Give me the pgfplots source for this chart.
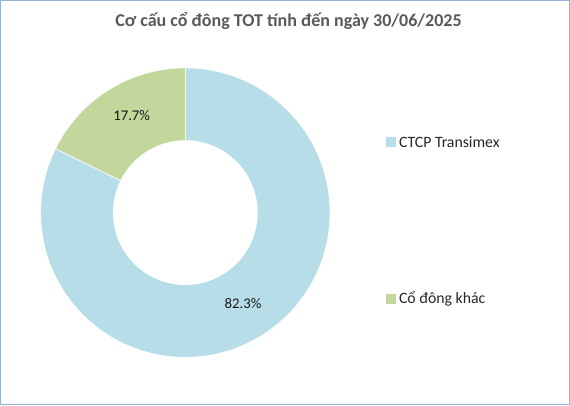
\documentclass[border=0pt]{standalone}
\usepackage{pgfplots}
\pgfplotsset{compat=1.18}
\usepackage{pgfplotstable}
\usepackage{fontspec}
\setmainfont{Carlito}
\definecolor{cblue}{HTML}{B7DDE8}
\definecolor{cgreen}{HTML}{C3D69B}
\definecolor{ctitle}{HTML}{595959}
\definecolor{cborder}{HTML}{95B3D7}
\pgfplotstableread{
label value
CTCP 82.3
Khac 17.7
}\sharetable
\begin{document}
\begin{tikzpicture}
\pgfplotstablegetelem{0}{value}\of\sharetable \let\va\pgfplotsretval
\pgfplotstablegetelem{1}{value}\of\sharetable \let\vb\pgfplotsretval
\pgfmathsetmacro{\aend}{90-3.6*\va}
\pgfmathsetmacro{\bend}{\aend-3.6*\vb}
\begin{axis}[hide axis, scale only axis, x=1pt, y=1pt,
  xmin=0, xmax=570, ymin=0, ymax=407, clip=false]
\addplot[fill=cblue, draw=white, line width=0.6pt, domain=90:\aend, samples=150, variable=\t]
  ({187+143*cos(\t)}, {194+143*sin(\t)}) -- (axis cs:187,194) -- cycle;
\addplot[fill=cgreen, draw=white, line width=0.6pt, domain=\aend:\bend, samples=60, variable=\t]
  ({187+143*cos(\t)}, {194+143*sin(\t)}) -- (axis cs:187,194) -- cycle;
\addplot[fill=white, draw=none, domain=0:360, samples=150, variable=\t]
  ({187+71.5*cos(\t)}, {194+71.5*sin(\t)}) -- cycle;
\node[font=\fontsize{14.6}{16}\selectfont, text=black!90] at (axis cs:244,104) {82.3\%};
\node[font=\fontsize{14.6}{16}\selectfont, text=black!90] at (axis cs:134,290) {17.7\%};
\node[font=\bfseries\fontsize{17.8}{20}\selectfont, text=ctitle] at (axis cs:289,383) {Cơ cấu cổ đông TOT tính đến ngày 30/06/2025};
\fill[cblue] (axis cs:385,259) rectangle (axis cs:395,269);
\node[anchor=west, inner sep=0pt, font=\fontsize{15.6}{18}\selectfont, text=black!85] at (axis cs:398,264) {CTCP Transimex};
\fill[cgreen] (axis cs:385,104) rectangle (axis cs:395,114);
\node[anchor=west, inner sep=0pt, font=\fontsize{15.6}{18}\selectfont, text=black!85] at (axis cs:398,109) {Cổ đông khác};
\draw[cborder, line width=1.2pt] (axis cs:4.5,4.5) rectangle (axis cs:566.5,403.5);
\end{axis}
\end{tikzpicture}
\end{document}
